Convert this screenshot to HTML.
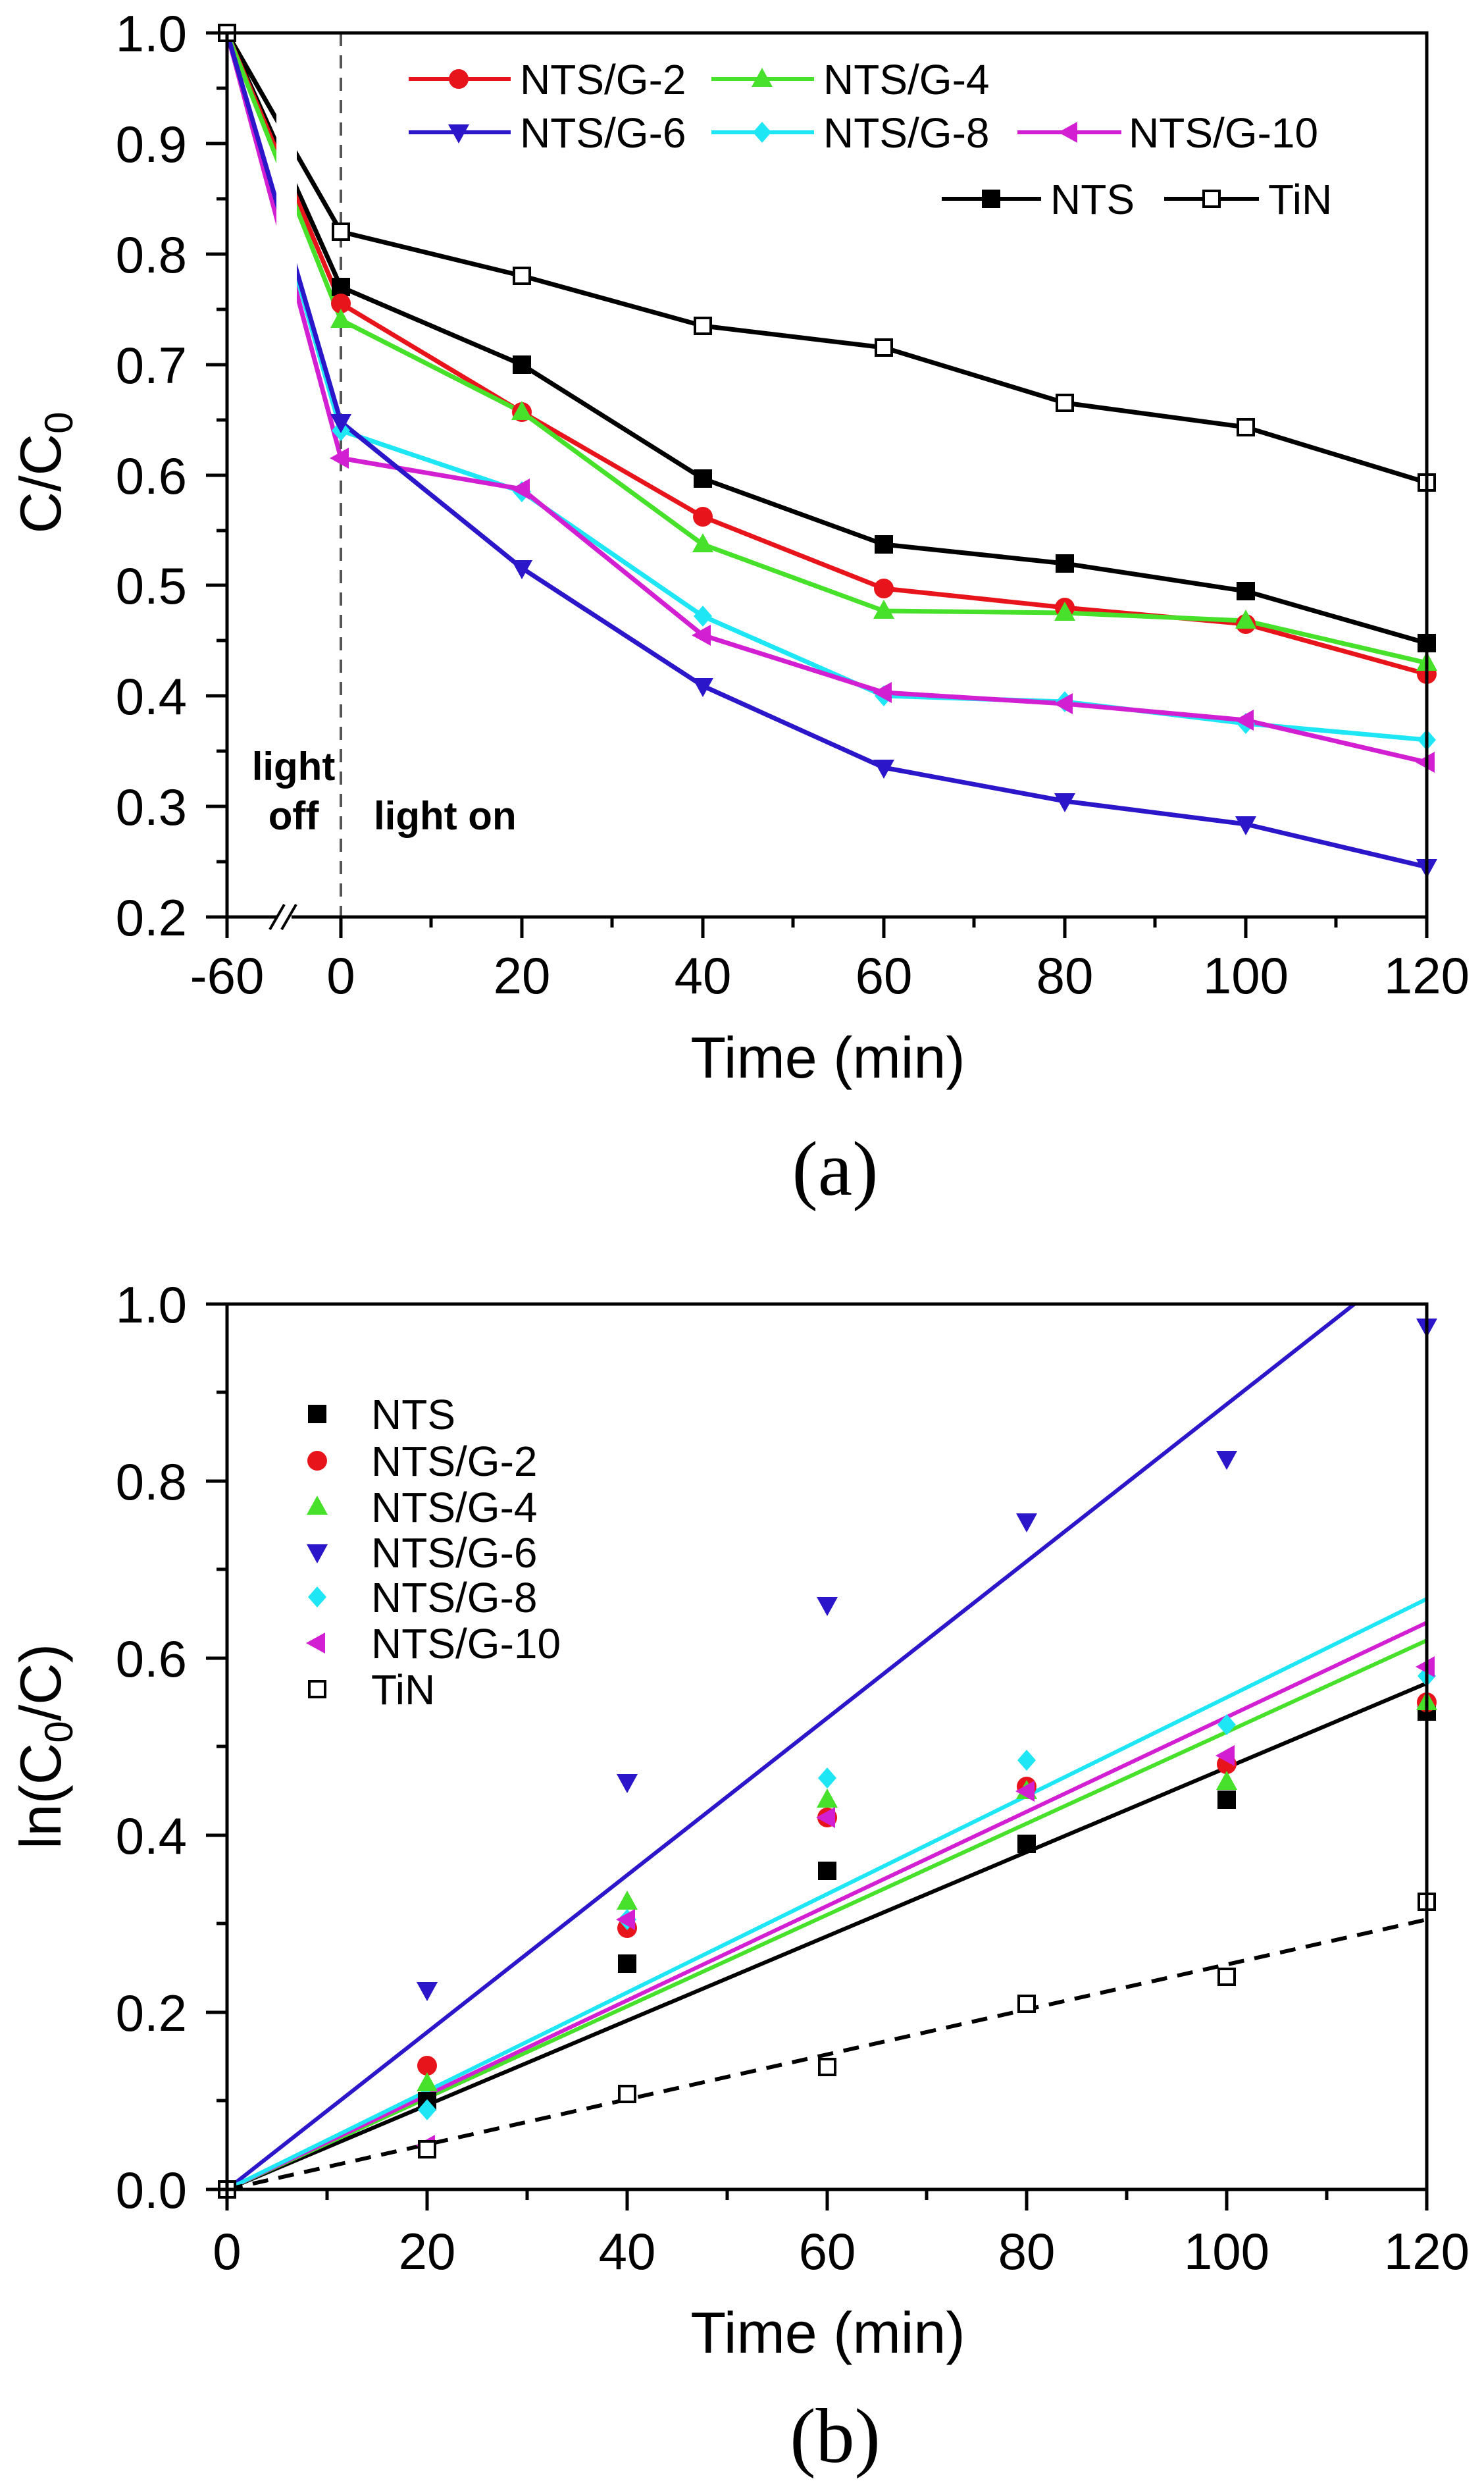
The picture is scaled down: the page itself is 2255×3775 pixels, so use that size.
<!DOCTYPE html>
<html><head><meta charset="utf-8"><style>html,body{margin:0;padding:0;background:#fff}svg{display:block}</style></head>
<body>
<svg width="2255" height="3775" viewBox="0 0 2255 3775" xmlns="http://www.w3.org/2000/svg" font-family="Liberation Sans, sans-serif">
<defs>
<g id="sqF"><rect x="-14" y="-14" width="28" height="28" fill="#000"/></g>
<g id="sqO"><rect x="-12" y="-12" width="24" height="24" fill="#fff" stroke="#000" stroke-width="4"/></g>
<g id="cir"><circle r="15" fill="#e8141c"/></g>
<g id="tU"><polygon points="0,-17 16,12 -16,12" fill="#47e02a"/></g>
<g id="tD"><polygon points="-16,-12 16,-12 0,17" fill="#2b16c9"/></g>
<g id="dia"><polygon points="0,-16 14,0 0,16 -14,0" fill="#1ee6f5"/></g>
<g id="tL"><polygon points="-17,0 12,-16 12,16" fill="#d21fd2"/></g>
<clipPath id="cb"><rect x="345" y="1981" width="1823" height="1345"/></clipPath>
</defs>
<rect width="2255" height="3775" fill="#fff"/>

<!-- ===== Plot (a) ===== -->
<g fill="none" stroke-width="7" stroke-linejoin="round">
<polyline stroke="#000" points="345,50 518,352 793,419 1068,495 1343,528 1618,612 1893,649 2168,733"/>
<polyline stroke="#000" points="345,50 518,436 793,554 1068,727 1343,827 1618,856 1893,898 2168,977"/>
<polyline stroke="#e8141c" points="345,50 518,461 793,626 1068,785 1343,894 1618,923 1893,948 2168,1024"/>
<polyline stroke="#47e02a" points="345,50 518,486 793,626 1068,827 1343,928 1618,931 1893,943 2168,1007"/>
<polyline stroke="#1ee6f5" points="345,50 518,654 793,747 1068,936 1343,1057 1618,1066 1893,1099 2168,1124"/>
<polyline stroke="#d21fd2" points="345,50 518,696 793,743 1068,965 1343,1052 1618,1069 1893,1094 2168,1158"/>
<polyline stroke="#2b16c9" points="345,50 518,641 793,863 1068,1042 1343,1166 1618,1217 1893,1252 2168,1317"/>
</g>
<rect x="420" y="56" width="31" height="1332" fill="#fff"/>
<line x1="518" y1="50" x2="518" y2="1393" stroke="#555" stroke-width="4" stroke-dasharray="20,14"/>
<g>
<use href="#sqO" x="518" y="352"/><use href="#sqO" x="793" y="419"/><use href="#sqO" x="1068" y="495"/><use href="#sqO" x="1343" y="528"/><use href="#sqO" x="1618" y="612"/><use href="#sqO" x="1893" y="649"/><use href="#sqO" x="2168" y="733"/>
<use href="#sqF" x="518" y="436"/><use href="#sqF" x="793" y="554"/><use href="#sqF" x="1068" y="727"/><use href="#sqF" x="1343" y="827"/><use href="#sqF" x="1618" y="856"/><use href="#sqF" x="1893" y="898"/><use href="#sqF" x="2168" y="977"/>
<use href="#cir" x="518" y="461"/><use href="#cir" x="793" y="626"/><use href="#cir" x="1068" y="785"/><use href="#cir" x="1343" y="894"/><use href="#cir" x="1618" y="923"/><use href="#cir" x="1893" y="948"/><use href="#cir" x="2168" y="1024"/>
<use href="#tU" x="518" y="486"/><use href="#tU" x="793" y="626"/><use href="#tU" x="1068" y="827"/><use href="#tU" x="1343" y="928"/><use href="#tU" x="1618" y="931"/><use href="#tU" x="1893" y="943"/><use href="#tU" x="2168" y="1007"/>
<use href="#dia" x="518" y="654"/><use href="#dia" x="793" y="747"/><use href="#dia" x="1068" y="936"/><use href="#dia" x="1343" y="1057"/><use href="#dia" x="1618" y="1066"/><use href="#dia" x="1893" y="1099"/><use href="#dia" x="2168" y="1124"/>
<use href="#tL" x="518" y="696"/><use href="#tL" x="793" y="743"/><use href="#tL" x="1068" y="965"/><use href="#tL" x="1343" y="1052"/><use href="#tL" x="1618" y="1069"/><use href="#tL" x="1893" y="1094"/><use href="#tL" x="2168" y="1158"/>
<use href="#tD" x="518" y="641"/><use href="#tD" x="793" y="863"/><use href="#tD" x="1068" y="1042"/><use href="#tD" x="1343" y="1166"/><use href="#tD" x="1618" y="1217"/><use href="#tD" x="1893" y="1252"/><use href="#tD" x="2168" y="1317"/>
<use href="#sqO" x="345" y="50"/>
</g>
<rect x="345" y="50" width="1823" height="1343" fill="none" stroke="#000" stroke-width="5"/>
<rect x="421" y="1385" width="22" height="14" fill="#fff"/>
<g stroke="#000" stroke-width="4">
<line x1="410" y1="1412" x2="432" y2="1374"/><line x1="428" y1="1412" x2="450" y2="1374"/>
</g>
<g stroke="#000" stroke-width="5">
<path d="M345,1393v32M518,1393v32M793,1393v32M1068,1393v32M1343,1393v32M1618,1393v32M1893,1393v32M2168,1393v32"/>
<path d="M655,1393v16M930,1393v16M1205,1393v16M1480,1393v16M1755,1393v16M2030,1393v16"/>
<path d="M345,50h-32M345,218h-32M345,386h-32M345,554h-32M345,722h-32M345,889h-32M345,1057h-32M345,1225h-32M345,1393h-32"/>
<path d="M345,134h-16M345,302h-16M345,470h-16M345,638h-16M345,806h-16M345,973h-16M345,1141h-16M345,1309h-16"/>
</g>
<g font-size="78" text-anchor="end" fill="#000">
<text x="284" y="78">1.0</text><text x="284" y="246">0.9</text><text x="284" y="414">0.8</text><text x="284" y="582">0.7</text><text x="284" y="750">0.6</text><text x="284" y="917">0.5</text><text x="284" y="1085">0.4</text><text x="284" y="1253">0.3</text><text x="284" y="1421">0.2</text>
</g>
<g font-size="78" text-anchor="middle" fill="#000">
<text x="345" y="1509">-60</text><text x="518" y="1509">0</text><text x="793" y="1509">20</text><text x="1068" y="1509">40</text><text x="1343" y="1509">60</text><text x="1618" y="1509">80</text><text x="1893" y="1509">100</text><text x="2168" y="1509">120</text>
</g>
<text x="1258" y="1637" font-size="88" text-anchor="middle">Time (min)</text>
<text transform="translate(92,718) rotate(-90)" font-size="88" text-anchor="middle">C/C<tspan font-size="60" dy="18">0</tspan></text>
<text x="1269" y="1815" font-size="118" text-anchor="middle" font-family="Liberation Serif, serif">(a)</text>
<g font-size="60" font-weight="bold">
<text x="446" y="1185" text-anchor="middle">light</text>
<text x="446" y="1260" text-anchor="middle">off</text>
<text x="568" y="1260">light on</text>
</g>
<g stroke-width="6">
<line x1="621" y1="120" x2="776" y2="120" stroke="#e8141c"/>
<line x1="1081" y1="120" x2="1237" y2="120" stroke="#47e02a"/>
<line x1="621" y1="201" x2="776" y2="201" stroke="#2b16c9"/>
<line x1="1081" y1="201" x2="1237" y2="201" stroke="#1ee6f5"/>
<line x1="1546" y1="201" x2="1704" y2="201" stroke="#d21fd2"/>
<line x1="1431" y1="302" x2="1582" y2="302" stroke="#000"/>
<line x1="1769" y1="302" x2="1913" y2="302" stroke="#000"/>
</g>
<use href="#cir" x="697" y="120"/><use href="#tU" x="1158" y="120"/><use href="#tD" x="697" y="201"/><use href="#dia" x="1158" y="201"/><use href="#tL" x="1625" y="201"/><use href="#sqF" x="1506" y="302"/><use href="#sqO" x="1841" y="302"/>
<g font-size="64">
<text x="790" y="143">NTS/G-2</text><text x="1251" y="143">NTS/G-4</text>
<text x="790" y="224">NTS/G-6</text><text x="1251" y="224">NTS/G-8</text><text x="1715" y="224">NTS/G-10</text>
<text x="1596" y="325">NTS</text><text x="1927" y="325">TiN</text>
</g>

<!-- ===== Plot (b) ===== -->
<g clip-path="url(#cb)" fill="none" stroke-width="6">
<line x1="345" y1="3326" x2="2058" y2="1981" stroke="#2b16c9"/>
<line x1="345" y1="3326" x2="2168" y2="2557" stroke="#000"/>
<line x1="345" y1="3326" x2="2168" y2="2492" stroke="#47e02a"/>
<line x1="345" y1="3326" x2="2168" y2="2465" stroke="#d21fd2"/>
<line x1="345" y1="3326" x2="2168" y2="2429" stroke="#1ee6f5"/>
<line x1="345" y1="3326" x2="2168" y2="2916" stroke="#000" stroke-dasharray="24,16"/>
</g>
<g>
<use href="#sqF" x="649" y="3192"/><use href="#sqF" x="953" y="2983"/><use href="#sqF" x="1257" y="2842"/><use href="#sqF" x="1560" y="2801"/><use href="#sqF" x="1864" y="2734"/><use href="#sqF" x="2168" y="2600"/>
<use href="#cir" x="649" y="3138"/><use href="#cir" x="953" y="2929"/><use href="#cir" x="1257" y="2761"/><use href="#cir" x="1560" y="2714"/><use href="#cir" x="1864" y="2680"/><use href="#cir" x="2168" y="2586"/>
<use href="#tU" x="649" y="3165"/><use href="#tU" x="953" y="2889"/><use href="#tU" x="1257" y="2734"/><use href="#tU" x="1560" y="2721"/><use href="#tU" x="1864" y="2707"/><use href="#tU" x="2168" y="2586"/>
<use href="#tD" x="649" y="3023"/><use href="#tD" x="953" y="2707"/><use href="#tD" x="1257" y="2438"/><use href="#tD" x="1560" y="2311"/><use href="#tD" x="1864" y="2216"/><use href="#tD" x="2168" y="2015"/>
<use href="#dia" x="649" y="3205"/><use href="#dia" x="953" y="2916"/><use href="#dia" x="1257" y="2701"/><use href="#dia" x="1560" y="2674"/><use href="#dia" x="1864" y="2620"/><use href="#dia" x="2168" y="2546"/>
<use href="#tL" x="649" y="3259"/><use href="#tL" x="953" y="2916"/><use href="#tL" x="1257" y="2761"/><use href="#tL" x="1560" y="2721"/><use href="#tL" x="1864" y="2667"/><use href="#tL" x="2168" y="2532"/>
<use href="#sqO" x="649" y="3265"/><use href="#sqO" x="953" y="3181"/><use href="#sqO" x="1257" y="3140"/><use href="#sqO" x="1560" y="3044"/><use href="#sqO" x="1864" y="3003"/><use href="#sqO" x="2168" y="2889"/>
<use href="#sqO" x="345" y="3326"/>
</g>
<rect x="345" y="1981" width="1823" height="1345" fill="none" stroke="#000" stroke-width="5"/>
<g stroke="#000" stroke-width="5">
<path d="M345,3326v32M649,3326v32M953,3326v32M1257,3326v32M1560,3326v32M1864,3326v32M2168,3326v32"/>
<path d="M497,3326v16M801,3326v16M1105,3326v16M1408,3326v16M1712,3326v16M2016,3326v16"/>
<path d="M345,3326h-32M345,3057h-32M345,2788h-32M345,2519h-32M345,2250h-32M345,1981h-32"/>
<path d="M345,3191h-16M345,2922h-16M345,2653h-16M345,2384h-16M345,2115h-16"/>
</g>
<g font-size="78" text-anchor="end">
<text x="284" y="3354">0.0</text><text x="284" y="3085">0.2</text><text x="284" y="2816">0.4</text><text x="284" y="2547">0.6</text><text x="284" y="2278">0.8</text><text x="284" y="2009">1.0</text>
</g>
<g font-size="78" text-anchor="middle">
<text x="345" y="3447">0</text><text x="649" y="3447">20</text><text x="953" y="3447">40</text><text x="1257" y="3447">60</text><text x="1560" y="3447">80</text><text x="1864" y="3447">100</text><text x="2168" y="3447">120</text>
</g>
<text x="1258" y="3574" font-size="88" text-anchor="middle">Time (min)</text>
<text transform="translate(92,2653) rotate(-90)" font-size="88" text-anchor="middle">ln(C<tspan font-size="60" dy="18">0</tspan><tspan dy="-18">/C)</tspan></text>
<text x="1269" y="3740" font-size="118" text-anchor="middle" font-family="Liberation Serif, serif">(b)</text>
<use href="#sqF" x="482" y="2148"/><use href="#cir" x="482" y="2219"/><use href="#tU" x="482" y="2289"/><use href="#tD" x="482" y="2358"/><use href="#dia" x="482" y="2426"/><use href="#tL" x="482" y="2496"/><use href="#sqO" x="482" y="2566"/>
<g font-size="64">
<text x="564" y="2171">NTS</text><text x="564" y="2242">NTS/G-2</text><text x="564" y="2312">NTS/G-4</text><text x="564" y="2381">NTS/G-6</text><text x="564" y="2449">NTS/G-8</text><text x="564" y="2519">NTS/G-10</text><text x="564" y="2589">TiN</text>
</g>
</svg>
</body></html>
